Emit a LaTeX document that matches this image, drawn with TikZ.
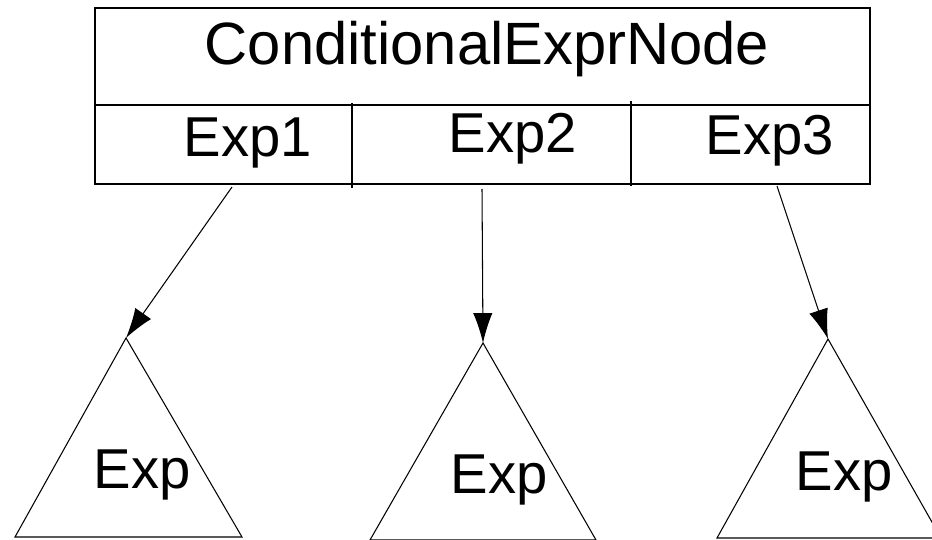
\documentclass[tikz,border=0pt]{standalone}
\usepackage{fontspec}
\setmainfont{Liberation Sans}
\usetikzlibrary{arrows.meta}

\begin{document}
\begin{tikzpicture}[x=0.02cm,y=-0.02cm,line width=0.6pt]
            \tikzstyle{label}=[inner sep=0pt,anchor=base,font=\fontsize{32}{32}\selectfont]
            \tikzstyle{subtree}=[draw,line join=miter]
            \tikzstyle{link}=[-{Latex[length=17pt,width=11pt]}]

            \useasboundingbox (0,0) rectangle (932,540);

            % the node record with its three fields
            \draw (95,8) rectangle (870,184);
            \draw (95,105) -- (870,105);
            \draw (352,103) -- (352,188);
            \draw (631,101) -- (631,186);

            \node (title) at (487,65) [label,font=\fontsize{34}{34}\selectfont] {ConditionalExprNode};
            \node (exp1) at (248,157) [label] {Exp1};
            \node (exp2) at (513,153) [label] {Exp2};
            \node (exp3) at (770,155) [label] {Exp3};

            % child subtrees
            \coordinate (T1) at (126,338);
            \coordinate (T2) at (483,343);
            \coordinate (T3) at (828,339);
            \draw[subtree] (T1) -- (242,537) -- (15,537) -- cycle;
            \draw[subtree] (T2) -- (596,540) -- (370,540) -- cycle;
            \draw[subtree] (T3) -- (941,538) -- (717,538) -- cycle;

            \node (sub1) at (142,488) [label] {Exp};
            \node (sub2) at (499,493) [label] {Exp};
            \node (sub3) at (844,490) [label] {Exp};

            \coordinate (f1) at (232,187);
            \coordinate (f2) at (482,189);
            \coordinate (f3) at (777,186);

            \draw[link] (f1) to (T1);
            \draw[link] (f2) to (T2);
            \draw[link] (f3) to (T3);
          \end{tikzpicture}
\end{document}
